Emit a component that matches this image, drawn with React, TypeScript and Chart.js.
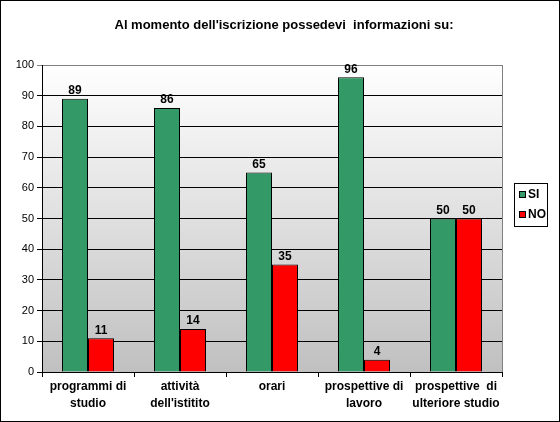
import { useEffect, useRef } from 'react'
import { Chart, registerables } from 'chart.js'
import type { Plugin } from 'chart.js'

Chart.register(...registerables)

const CATEGORIES = [
  ['programmi di', 'studio'],
  ['attività', "dell'istitito"],
  ['orari'],
  ['prospettive di', 'lavoro'],
  ['prospettive  di', 'ulteriore studio'],
]
const SI = [89, 86, 65, 96, 50]
const NO = [11, 14, 35, 4, 50]
const TITLE = "Al momento dell'iscrizione possedevi  informazioni su:"

const GREEN = '#339966'
const RED = '#ff0000'

const decor: Plugin<'bar'> = {
  id: 'decor',
  beforeDraw(chart) {
    const { ctx, chartArea: a } = chart
    const g = ctx.createLinearGradient(0, a.top, 0, a.bottom)
    g.addColorStop(0, '#ffffff')
    g.addColorStop(1, '#c0c0c0')
    ctx.save()
    ctx.fillStyle = g
    ctx.fillRect(a.left, a.top, a.right - a.left, a.bottom - a.top)
    ctx.restore()
  },
  afterDatasetsDraw(chart) {
    const { ctx } = chart
    ctx.save()
    ctx.font = 'bold 12px Arial, "Liberation Sans", sans-serif'
    ctx.fillStyle = '#000'
    ctx.textAlign = 'center'
    ctx.textBaseline = 'bottom'
    chart.data.datasets.forEach((ds, i) => {
      chart.getDatasetMeta(i).data.forEach((bar, j) => {
        ctx.fillText(String(ds.data[j]), bar.x, bar.y - 2)
      })
    })
    ctx.restore()
  },
  afterDraw(chart) {
    const { ctx, chartArea: a } = chart
    ctx.save()
    // plot area right border
    ctx.strokeStyle = '#808080'
    ctx.lineWidth = 1
    ctx.beginPath()
    ctx.moveTo(Math.round(a.right) + 0.5, a.top)
    ctx.lineTo(Math.round(a.right) + 0.5, a.bottom)
    ctx.stroke()
    // title
    ctx.fillStyle = '#000'
    ctx.font = 'bold 13px Arial, "Liberation Sans", sans-serif'
    ctx.textAlign = 'center'
    ctx.textBaseline = 'middle'
    ctx.fillText(TITLE, 284, 25)
    // legend
    ctx.strokeStyle = '#000'
    ctx.strokeRect(514.5, 183.5, 33, 43)
    const items: [string, string][] = [['SI', GREEN], ['NO', RED]]
    ctx.font = 'bold 12px Arial, "Liberation Sans", sans-serif'
    ctx.textAlign = 'left'
    items.forEach(([label, color], i) => {
      const y = 191 + i * 20
      ctx.fillStyle = color
      ctx.fillRect(519, y, 7, 7)
      ctx.strokeRect(519.5, y + 0.5, 6, 6)
      ctx.fillStyle = '#000'
      ctx.fillText(label, 528, y + 4)
    })
    // outer frame
    ctx.strokeRect(0.5, 0.5, chart.width - 1, chart.height - 1)
    ctx.restore()
  },
}

export default function App() {
  const canvasRef = useRef<HTMLCanvasElement>(null)

  useEffect(() => {
    document.body.style.margin = '0'
    if (!canvasRef.current) return
    const chart = new Chart(canvasRef.current, {
      type: 'bar',
      data: {
        labels: CATEGORIES,
        datasets: [
          { label: 'SI', data: SI, backgroundColor: GREEN, borderColor: '#000', borderWidth: 1, barPercentage: 1, categoryPercentage: 0.565 },
          { label: 'NO', data: NO, backgroundColor: RED, borderColor: '#000', borderWidth: 1, barPercentage: 1, categoryPercentage: 0.565 },
        ],
      },
      options: {
        responsive: false,
        animation: false,
        layout: { padding: { left: 0, top: 65, right: 58, bottom: 0 } },
        plugins: { legend: { display: false }, title: { display: false }, tooltip: { enabled: false } },
        scales: {
          x: {
            grid: { display: true, drawOnChartArea: false, color: '#000', tickLength: 5 },
            border: { color: '#000' },
            ticks: { color: '#000', font: { family: 'Arial, "Liberation Sans", sans-serif', size: 12, weight: 'bold', lineHeight: 1.35 }, padding: 2, maxRotation: 0 },
            afterFit: (s) => { s.height = 50 },
          },
          y: {
            min: 0,
            max: 100,
            ticks: { stepSize: 10, color: '#000', font: { family: 'Arial, "Liberation Sans", sans-serif', size: 11 }, padding: 3 },
            grid: { color: (c) => (c.tick.value === 100 ? '#808080' : '#000'), tickLength: 5 },
            border: { color: '#000' },
            afterFit: (s) => { s.width = 42 },
          },
        },
      },
      plugins: [decor],
    })
    return () => { chart.destroy() }
  }, [])

  return (
    <div style={{ width: 560, height: 422 }}>
      <canvas ref={canvasRef} width={560} height={422} />
    </div>
  )
}
